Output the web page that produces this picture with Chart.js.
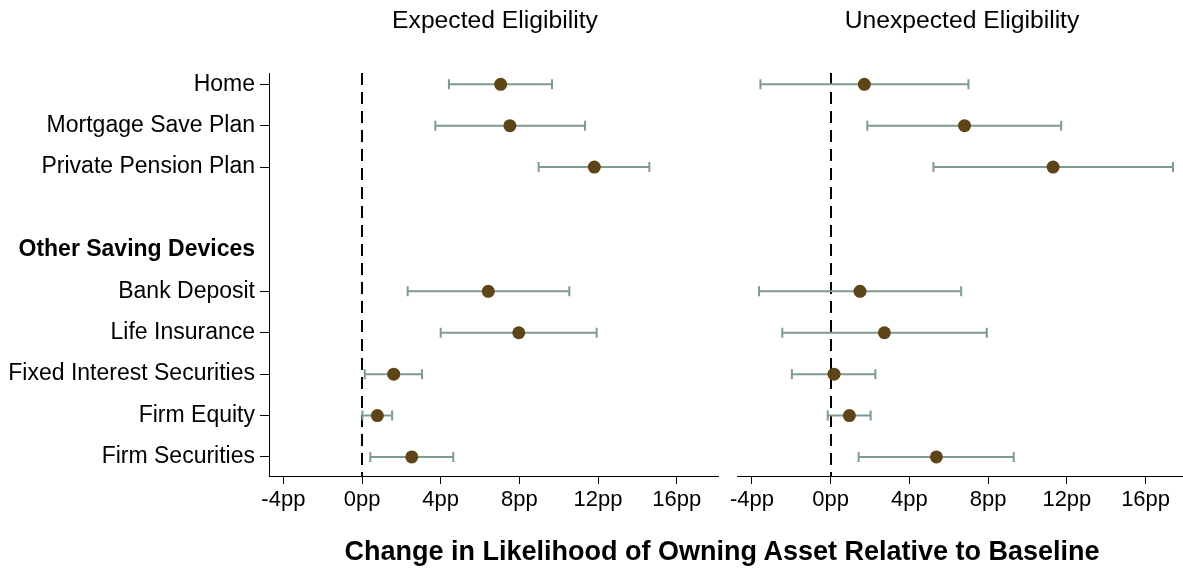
<!DOCTYPE html>
<html>
<head>
<meta charset="utf-8">
<script src="https://cdn.jsdelivr.net/npm/chart.js@4/dist/chart.umd.min.js"></script>
<style>
  html, body { margin: 0; padding: 0; background: #fff; }
  body { width: 1183px; height: 569px; position: relative; overflow: hidden;
         font-family: "Liberation Sans", Arial, Helvetica, sans-serif; color: #000; }
  .panel { position: absolute; top: 0; }
  .title { position: absolute; transform: translate(-50%, -50%); white-space: nowrap; line-height: 1; }
  .panel-title { font-size: 24.7px; }
  .axis-title { font-size: 27px; font-weight: bold; }
</style>
</head>
<body>
<div class="panel" style="left:0;width:722px;height:569px;"><canvas id="left" width="722" height="569"></canvas></div>
<div class="panel" style="left:722px;width:461px;height:569px;"><canvas id="right" width="461" height="569"></canvas></div>
<div class="title panel-title" style="left:495px;top:20px;">Expected Eligibility</div>
<div class="title panel-title" style="left:962px;top:20px;">Unexpected Eligibility</div>
<div class="title axis-title" style="left:722px;top:551px;">Change in Likelihood of Owning Asset Relative to Baseline</div>
<script>
// Row labels, top to bottom (row 3 is a spacer, row 4 a group heading)
const rowLabels = ['Home', 'Mortgage Save Plan', 'Private Pension Plan', '',
  'Other Saving Devices', 'Bank Deposit', 'Life Insurance',
  'Fixed Interest Securities', 'Firm Equity', 'Firm Securities'];
const headingRow = 4;
const spacerRow = 3;
// Rows that carry an estimate
const assetRows = [0, 1, 2, 5, 6, 7, 8, 9];

// Expected eligibility: point estimate and confidence interval (pp)
const expectedEst = [7.05, 7.52, 11.81, 6.42, 7.97, 1.61, 0.78, 2.53];
const expectedLo  = [4.42, 3.73, 8.98, 2.32, 4.00, 0.14, 0.02, 0.42];
const expectedHi  = [9.66, 11.34, 14.61, 10.54, 11.93, 3.05, 1.53, 4.64];

// Unexpected eligibility
const unexpectedEst = [1.71, 6.80, 11.30, 1.49, 2.73, 0.17, 0.95, 5.37];
const unexpectedLo  = [-3.57, 1.86, 5.22, -3.64, -2.46, -1.97, -0.15, 1.42];
const unexpectedHi  = [7.00, 11.71, 17.39, 6.63, 7.93, 2.27, 2.03, 9.30];

// x-axis ticks
const xTickValues = [-4, 0, 4, 8, 12, 16];

const FONT = '"Liberation Sans", Arial, Helvetica, sans-serif';
const POINT_COLOR = '#5d4517';
const BAR_COLOR = '#7d9b91';

// Horizontal confidence-interval whiskers with end caps
const errorBars = {
  id: 'errorBars',
  beforeDatasetsDraw(chart, args, opts) {
    const { ctx, scales: { x, y } } = chart;
    ctx.save();
    ctx.strokeStyle = BAR_COLOR;
    ctx.lineWidth = 2;
    opts.lo.forEach((lo, i) => {
      const hi = opts.hi[i];
      const py = y.getPixelForValue(assetRows[i]);
      const x0 = x.getPixelForValue(lo), x1 = x.getPixelForValue(hi);
      ctx.beginPath();
      ctx.moveTo(x0, py); ctx.lineTo(x1, py);
      ctx.moveTo(x0, py - 5); ctx.lineTo(x0, py + 5);
      ctx.moveTo(x1, py - 5); ctx.lineTo(x1, py + 5);
      ctx.stroke();
    });
    ctx.restore();
  }
};

// Dashed reference line at zero
const zeroLine = {
  id: 'zeroLine',
  beforeDatasetsDraw(chart) {
    const { ctx, chartArea, scales: { x } } = chart;
    const px = Math.round(x.getPixelForValue(0));
    ctx.save();
    ctx.strokeStyle = '#000';
    ctx.lineWidth = 2;
    ctx.setLineDash([12, 7]);
    ctx.beginPath();
    ctx.moveTo(px, chartArea.top);
    ctx.lineTo(px, chartArea.bottom);
    ctx.stroke();
    ctx.restore();
  }
};

function makePanel(canvasId, est, lo, hi, xMin, xMax, showRows) {
  const yTickRows = rowLabels.map((_, i) => i).filter(i => i !== spacerRow);
  return new Chart(document.getElementById(canvasId), {
    type: 'scatter',
    data: {
      datasets: [{
        data: est.map((v, i) => ({ x: v, y: assetRows[i] })),
        backgroundColor: POINT_COLOR,
        borderWidth: 0,
        pointRadius: 6.5,
        pointHoverRadius: 6.5,
        clip: false
      }]
    },
    options: {
      responsive: false,
      animation: false,
      devicePixelRatio: 1,
      layout: {
        autoPadding: false,
        padding: { top: 73, right: showRows ? 4 : 0, left: showRows ? 0 : 15, bottom: 0 }
      },
      plugins: {
        legend: { display: false },
        tooltip: { enabled: false },
        errorBars: { lo: lo, hi: hi }
      },
      scales: {
        x: {
          type: 'linear',
          min: xMin, max: xMax,
          afterBuildTicks: s => { s.ticks = xTickValues.map(v => ({ value: v })); },
          afterFit: s => { s.height = 93; },
          grid: { drawOnChartArea: false, tickLength: 8, tickColor: '#000', tickWidth: 1 },
          border: { color: '#000', width: 1 },
          ticks: {
            color: '#000', padding: 3, maxRotation: 0, autoSkip: false,
            font: { family: FONT, size: 22 },
            callback: v => v + 'pp'
          }
        },
        y: {
          type: 'linear',
          display: showRows,
          reverse: true,
          min: -0.273, max: 9.46,
          afterBuildTicks: s => { s.ticks = yTickRows.map(v => ({ value: v })); },
          afterFit: s => { if (showRows) s.width = 269; },
          grid: {
            drawOnChartArea: false, tickLength: 9, tickWidth: 1,
            tickColor: c => (c.tick && c.tick.value === headingRow) ? 'rgba(0,0,0,0)' : '#000'
          },
          border: { color: '#000', width: 1 },
          ticks: {
            color: '#000', padding: 5, autoSkip: false,
            font: c => ({ family: FONT, size: 23,
                          weight: (c.tick && c.tick.value === headingRow) ? 'bold' : 'normal' }),
            callback: v => rowLabels[v]
          }
        }
      }
    },
    plugins: [zeroLine, errorBars]
  });
}

makePanel('left', expectedEst, expectedLo, expectedHi, -4.73, 18.1, true);
makePanel('right', unexpectedEst, unexpectedLo, unexpectedHi, -4.76, 17.9, false);
</script>
</body>
</html>
